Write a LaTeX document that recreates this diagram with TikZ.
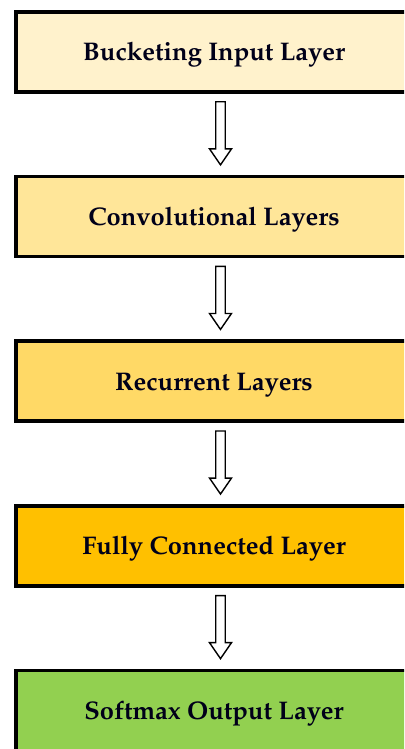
\documentclass[tikz,border=0pt]{standalone}
\usepackage[T1]{fontenc}
\renewcommand{\rmdefault}{ppl}
\usetikzlibrary{calc}
\definecolor{cA}{HTML}{FFF2CC}
\definecolor{cB}{HTML}{FFE699}
\definecolor{cC}{HTML}{FFD966}
\definecolor{cD}{HTML}{FFC000}
\definecolor{cE}{HTML}{92D050}
\tikzset{
  layerbox/.style={draw=black, line width=3.5pt, minimum width=396pt, minimum height=80pt,
    inner sep=0pt, text height=18pt, text depth=0pt,
    font=\fontsize{25.5}{30}\selectfont\bfseries, text=black!90!blue},
  hollowarrow/.style={draw=black, line width=1.4pt, fill=white, line join=miter}
}
\begin{document}
\begin{tikzpicture}[x=1pt,y=-1pt]
\useasboundingbox (0,0) rectangle (404,749);
\begin{scope}
\clip (0,0) rectangle (404,749);
\node[layerbox, fill=cA] (b1) at (214,52) {Bucketing Input Layer};
\node[layerbox, fill=cB] (b2) at (214,216.6) {Convolutional Layers};
\node[layerbox, fill=cC] (b3) at (214,381.2) {Recurrent Layers};
\node[layerbox, fill=cD] (b4) at (214,545.8) {Fully Connected Layer};
\node[layerbox, fill=cE] (b5) at (214,710.4) {Softmax Output Layer};
\foreach \u/\v in {b1/b2,b2/b3,b3/b4,b4/b5}{
  \coordinate (s) at ($(\u.south)+(6.5,8)$);
  \coordinate (t) at ($(\v.north)+(6.5,-10)$);
  \draw[hollowarrow] ($(s)+(-4.75,0)$) -- ($(t)+(-4.75,-16)$) -- ($(t)+(-11,-16)$) -- (t)
    -- ($(t)+(11,-16)$) -- ($(t)+(4.75,-16)$) -- ($(s)+(4.75,0)$) -- cycle;
}
\end{scope}
\end{tikzpicture}
\end{document}
